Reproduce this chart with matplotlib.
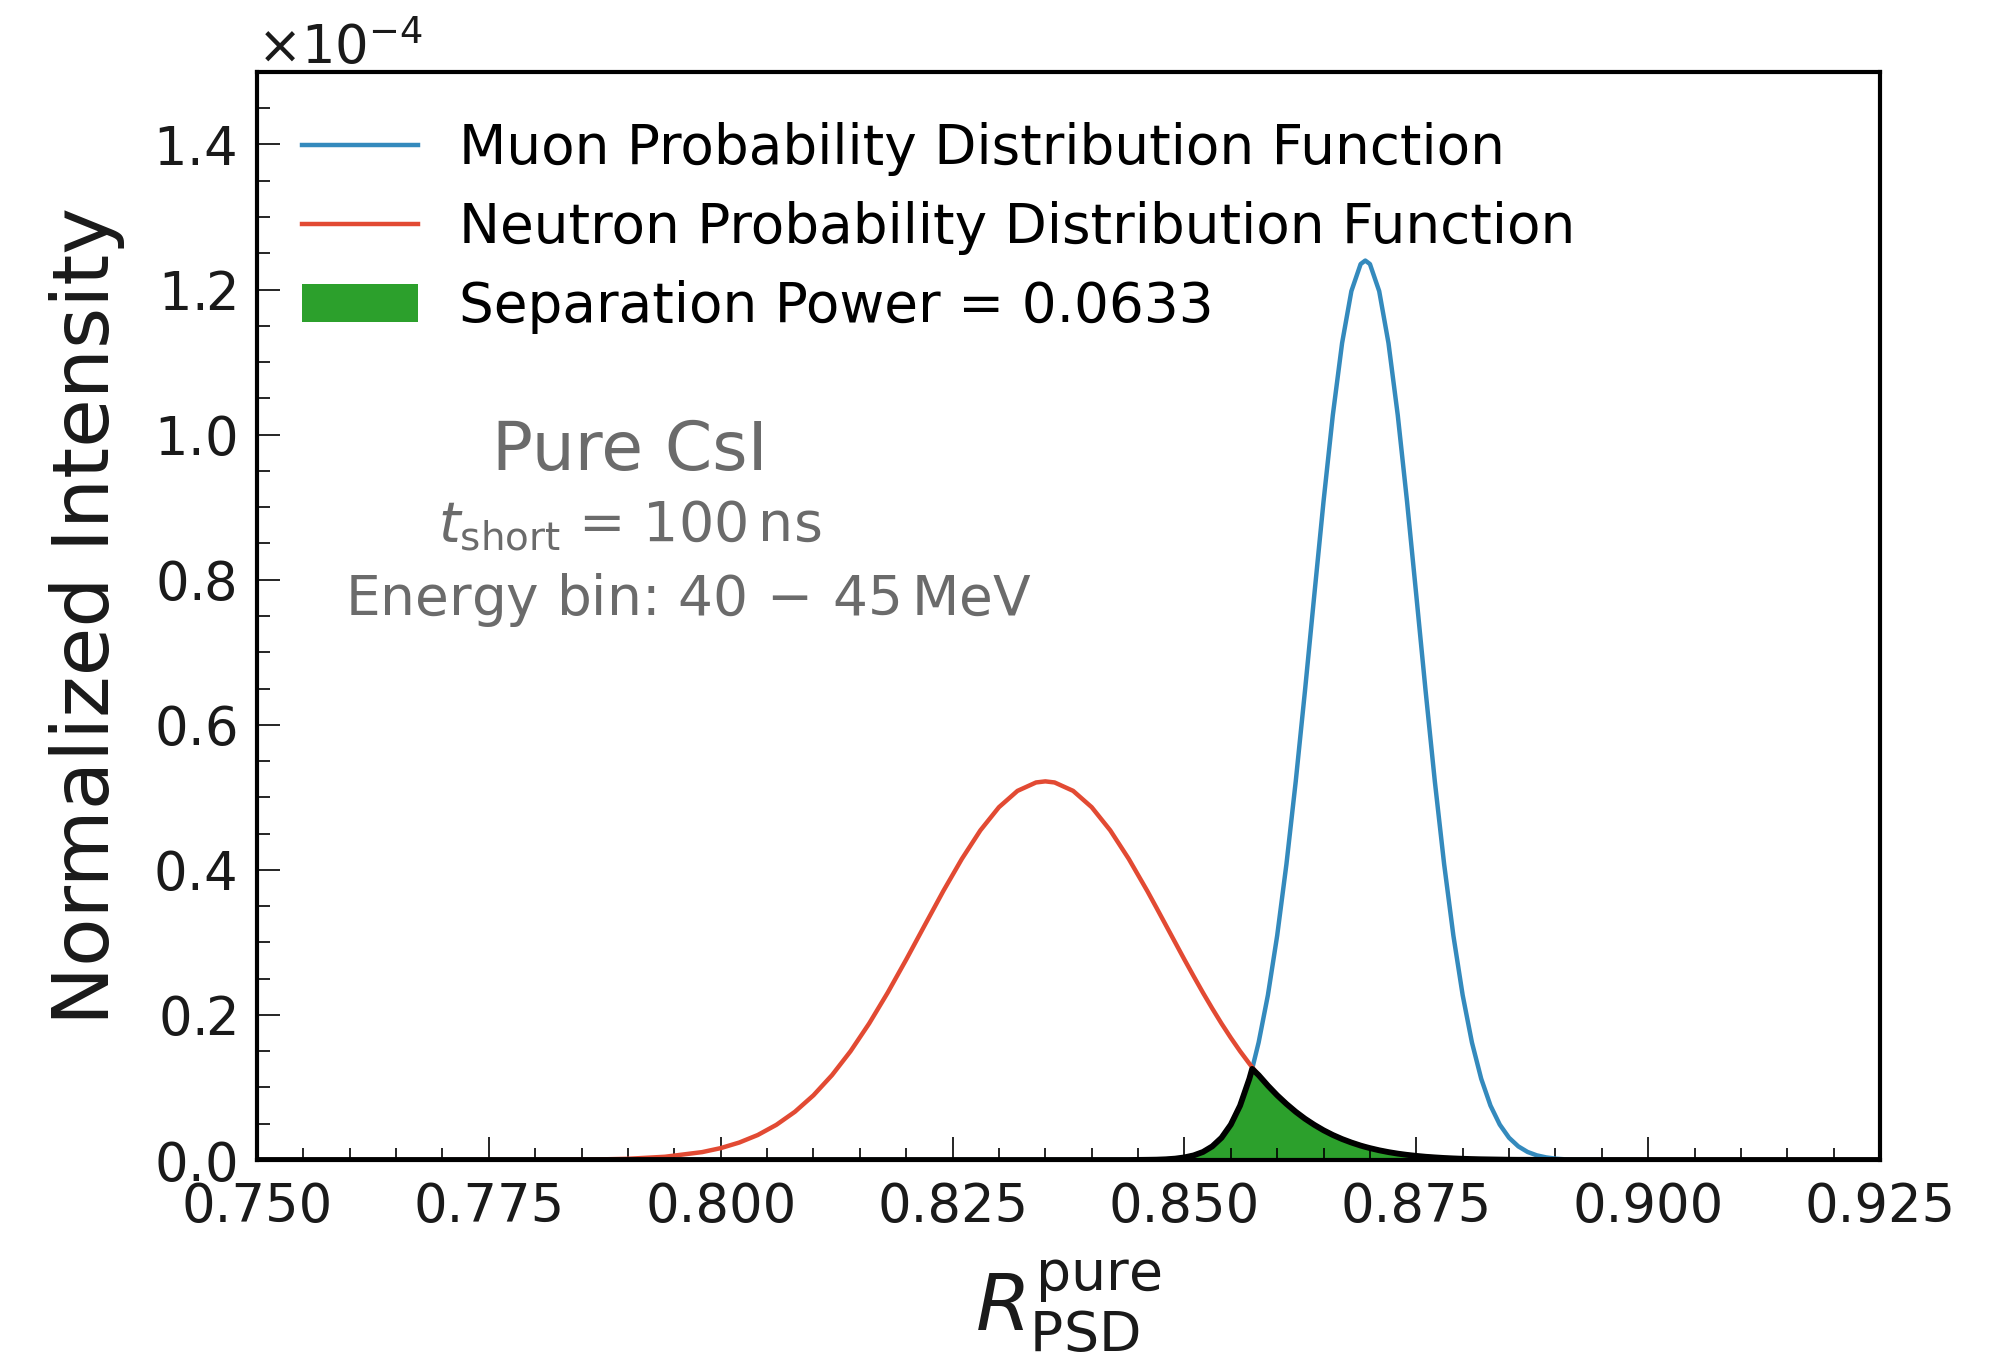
import numpy as np
import matplotlib
matplotlib.use("Agg")
import matplotlib.pyplot as plt
from matplotlib.ticker import MultipleLocator, ScalarFormatter

# ---- data (intensity in units of 1e-4) ----
r_psd = [0.750, 0.770, 0.780, 0.786, 0.790, 0.794, 0.798,
         0.800, 0.802, 0.804, 0.806, 0.808, 0.810, 0.812, 0.814, 0.816, 0.818,
         0.820, 0.822, 0.824, 0.826, 0.828, 0.830, 0.832, 0.834, 0.835, 0.836,
         0.838, 0.840, 0.842, 0.844, 0.846,
         0.847, 0.848, 0.849, 0.850, 0.851, 0.852, 0.853, 0.854, 0.855, 0.856,
         0.857, 0.8573, 0.858, 0.859, 0.860, 0.861, 0.862, 0.863, 0.864, 0.865,
         0.866, 0.867, 0.868, 0.869, 0.8695, 0.870, 0.871, 0.872, 0.873, 0.874,
         0.875, 0.876, 0.877, 0.878, 0.879, 0.880, 0.881, 0.882, 0.883, 0.884,
         0.885, 0.886, 0.887, 0.888, 0.889, 0.890, 0.891, 0.892, 0.900, 0.925]

neutron_pdf = [0.0, 0.0, 0.0001, 0.0006, 0.0017, 0.0045, 0.0109,
               0.0164, 0.0241, 0.0345, 0.0485, 0.0665, 0.0892, 0.1170, 0.1500, 0.1881, 0.2306,
               0.2763, 0.3237, 0.3708, 0.4151, 0.4545, 0.4864, 0.5089, 0.5205, 0.5220, 0.5205,
               0.5089, 0.4864, 0.4545, 0.4151, 0.3708,
               0.3474, 0.3237, 0.3000, 0.2763, 0.2532, 0.2306, 0.2089, 0.1881, 0.1685, 0.1500,
               0.1329, 0.1280, 0.1170, 0.1025, 0.0892, 0.0773, 0.0665, 0.0569, 0.0485, 0.0410,
               0.0345, 0.0289, 0.0241, 0.0199, 0.0181, 0.0164, 0.0134, 0.0109, 0.0088, 0.0071,
               0.0057, 0.0045, 0.0036, 0.0028, 0.0022, 0.0017, 0.0013, 0.0010, 0.0008, 0.0006,
               0.0004, 0.0003, 0.0003, 0.0002, 0.0001, 0.0001, 0.0, 0.0, 0.0, 0.0]

muon_pdf = [0.0, 0.0, 0.0, 0.0, 0.0, 0.0, 0.0,
            0.0, 0.0, 0.0, 0.0, 0.0, 0.0, 0.0, 0.0, 0.0, 0.0,
            0.0, 0.0, 0.0, 0.0, 0.0, 0.0, 0.0, 0.0, 0.0, 0.0,
            0.0, 0.0, 0.0, 0.0, 0.0003,
            0.0005, 0.0010, 0.0019, 0.0036, 0.0064, 0.0111, 0.0188, 0.0307, 0.0488, 0.0750,
            0.1120, 0.1256, 0.1620, 0.2273, 0.3093, 0.4080, 0.5218, 0.6472, 0.7785, 0.9081,
            1.0270, 1.1263, 1.1978, 1.2352, 1.2400, 1.2352, 1.1978, 1.1263, 1.0270, 0.9081,
            0.7785, 0.6472, 0.5218, 0.4080, 0.3093, 0.2273, 0.1620, 0.1120, 0.0750, 0.0488,
            0.0307, 0.0188, 0.0111, 0.0064, 0.0036, 0.0019, 0.0010, 0.0005, 0.0, 0.0]

separation_power = 0.0633

x = np.array(r_psd)
neutron = np.array(neutron_pdf) * 1e-4
muon = np.array(muon_pdf) * 1e-4
overlap = np.minimum(neutron, muon)

# ---- figure ----
fig = plt.figure(figsize=(10.015, 6.775), dpi=200)
ax = fig.add_axes([0.1283, 0.1439, 0.8103, 0.8030])

ax.plot(x, muon, color='#348ABD', lw=1.6, label='Muon Probability Distribution Function')
ax.plot(x, neutron, color='#E24A33', lw=1.6, label='Neutron Probability Distribution Function')
ax.fill_between(x, 0, overlap, color='#2ca02c', lw=0,
                label=f'Separation Power = {separation_power}')
ax.plot(x, overlap, color='black', lw=2.1)

ax.set_xlim(0.750, 0.925)
ax.set_ylim(0, 1.5e-4)
ax.xaxis.set_major_locator(MultipleLocator(0.025))
ax.xaxis.set_minor_locator(MultipleLocator(0.005))
ax.yaxis.set_major_locator(MultipleLocator(0.2e-4))
ax.yaxis.set_minor_locator(MultipleLocator(0.05e-4))
fmt = ScalarFormatter(useMathText=True)
fmt.set_powerlimits((-3, 3))
ax.yaxis.set_major_formatter(fmt)
ax.xaxis.set_major_formatter(matplotlib.ticker.FormatStrFormatter('%.3f'))

ax.tick_params(which='both', direction='in', top=False, right=False,
               labelsize=19, width=0.6, color='black', labelcolor='#1a1a1a', pad=7.5)
ax.tick_params(which='major', length=8.4)
ax.tick_params(which='minor', length=4.5)
ax.yaxis.get_offset_text().set_fontsize(19)
for s in ax.spines.values():
    s.set_linewidth(1.5)
    s.set_color('black')

ax.set_ylabel('Normalized Intensity', fontsize=28.5, color='#1a1a1a', labelpad=10)
ax.set_xlabel(r'$R_{\mathrm{PSD}}^{\mathrm{pure}}$', fontsize=28.5, color='#1a1a1a', labelpad=9)

ax.legend(loc='upper left', bbox_to_anchor=(0.028, 0.954), frameon=False,
          fontsize=19.75, labelspacing=0.46, handlelength=2.1, handletextpad=0.75,
          borderpad=0, borderaxespad=0)

gray = '#6b6b6b'
ax.text(0.2299, 0.652, 'Pure CsI', transform=ax.transAxes, ha='center', va='center',
        fontsize=24.5, color=gray)
ax.text(0.2299, 0.583, r'$t_{\mathrm{short}}$ = 100$\,$ns', transform=ax.transAxes,
        ha='center', va='center', fontsize=20, color=gray)
ax.text(0.2661, 0.515, r'Energy bin: $40\,-\,45\,\mathrm{MeV}$', transform=ax.transAxes,
        ha='center', va='center', fontsize=19.8, color=gray)

fig.savefig('out.png', dpi=200)
